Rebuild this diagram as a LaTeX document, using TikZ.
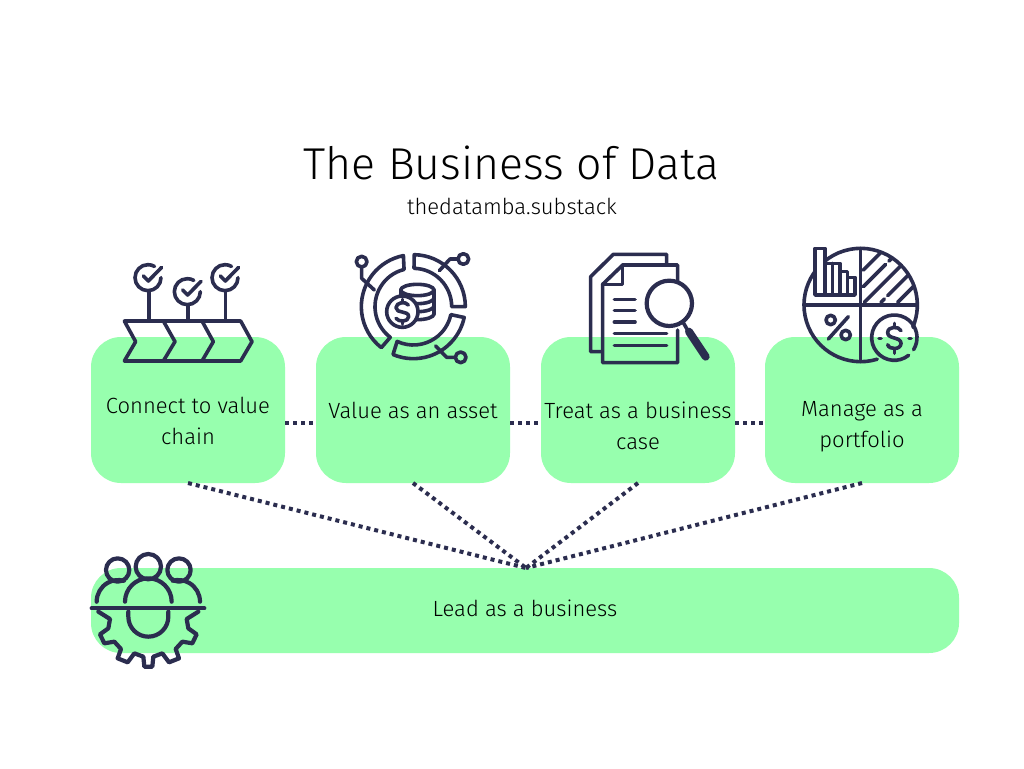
\documentclass[tikz,border=0pt]{standalone}
\usepackage{fontspec}
\setmainfont{Fira Sans Light}
\definecolor{navy}{HTML}{2B2D4F}
\definecolor{mint}{HTML}{97FFAE}
\tikzset{
  panel/.style={fill=mint,inner sep=0pt,outer sep=0pt,rounded corners=30pt,minimum width=194pt,minimum height=146pt},
  leadpanel/.style={panel,minimum width=868pt,minimum height=85pt},
  dotline/.style={draw=navy,line width=4pt,dash pattern=on 4pt off 4pt},
  ink/.style={draw=navy,line width=3.6pt,line join=round,line cap=round},
  thickink/.style={ink,line width=4.2pt},
  caption/.style={text=black,align=center,font=\fontsize{22}{31}\selectfont,inner sep=0pt},
  iconz/.style={shift={#1},scale=0.33333}
}
\begin{document}
\begin{tikzpicture}[yscale=-1,x=1pt,y=1pt]
\useasboundingbox[fill=white] (0,0) rectangle (1024,768);
\node[panel] (b1) at (188,410) {};
\node[panel] (b2) at (413,410) {};
\node[panel] (b3) at (638,410) {};
\node[panel] (b4) at (862,410) {};
\node[leadpanel] (lead) at (525,610.5) {};
\draw[dotline] ([yshift=13pt]b1.east) -- ([yshift=13pt]b2.west);
\draw[dotline] ([yshift=13pt]b2.east) -- ([yshift=13pt]b3.west);
\draw[dotline] ([yshift=13pt]b3.east) -- ([yshift=13pt]b4.west);
\draw[dotline] (b1.south) -- ([xshift=1pt]lead.north);
\draw[dotline] (b2.south) -- ([xshift=1pt]lead.north);
\draw[dotline] (b3.south) -- ([xshift=1pt]lead.north);
\draw[dotline] (b4.south) -- ([xshift=1pt]lead.north);
\node[text=black,inner sep=0pt,font=\fontsize{44.6}{50}\selectfont] (title) at (511.5,163) {The Business of Data};
\node[text=black,inner sep=0pt,font=\fontsize{22}{26}\selectfont] (sub) at (512,206.5) {thedatamba.substack};
\node[caption] (c1) at (188,421) {Connect to value\\chain};
\node[caption] (c2) at (413,410.5) {Value as an asset};
\node[caption] (c3) at (638,425.5) {Treat as a business\\case};
\node[caption] (c4) at (862,426.5) {Manage as a\\portfolio};
\node[caption] (c5) at (525,608) {Lead as a business};
% icon 1
\begin{scope}[iconz={(90,240)}]
\draw[ink] (103,243) -- (452,243) -- (486,305) -- (452,363) -- (103,363) -- (137,305) -- cycle;
\draw[ink] (220,243) -- (255,305) -- (220,363);
\draw[ink] (336,243) -- (370,305) -- (336,363);
\foreach \cx/\cy in {174/113,292/155,405/113}{
  \begin{scope}[shift={(\cx,\cy)}]
  \draw[ink] (39,0) arc[start angle=0,end angle=300,radius=39];
  \draw[ink] (-14,-5) -- (1,10) -- (41,-31);
  \end{scope}
}
\draw[ink] (177,152) -- (177,243);
\draw[ink] (294,194) -- (294,243);
\draw[ink] (407,152) -- (407,243);
\end{scope}
% icon 2
\begin{scope}[iconz={(340,240)}]
\def\Ro{156}\def\Ri{115}
\begin{scope}[shift={(220,200)}]
\draw[ink] (-89:\Ro) arc[start angle=-89,end angle=0,radius=\Ro] -- (0:\Ri) arc[start angle=0,end angle=-89,radius=\Ri] -- cycle;
\draw[ink] (12:\Ro) arc[start angle=12,end angle=113,radius=\Ro] -- (115:\Ri) arc[start angle=115,end angle=12,radius=\Ri] -- cycle;
\draw[ink] (128:\Ro) arc[start angle=128,end angle=259,radius=\Ro] -- (256:\Ri) arc[start angle=256,end angle=127,radius=\Ri] -- cycle;
\end{scope}
\draw[ink] (65,65) circle (16);
\draw[ink] (65,82) -- (65,115) -- (103,150);
\draw[ink] (370,57) circle (16);
\draw[ink] (353,57) -- (330,57) -- (298,92);
\draw[ink] (362,352) circle (16);
\draw[ink] (345,352) -- (320,352) -- (287,318);
\draw[ink] (232,150) ellipse (50 and 17);
\draw[ink] (182,150) -- (182,190);
\draw[ink] (282,150) -- (282,222);
\foreach \yy in {174,198,222}{
  \draw[ink] (282,\yy) arc[start angle=0,end angle=130,x radius=50,y radius=17];
}
\draw[ink,fill=white] (187,215) circle (47);
\draw[ink] (205,195) .. controls (197,183) and (168,187) .. (168,203) .. controls (168,222) and (206,210) .. (206,230) .. controls (206,246) and (176,247) .. (168,235);
\draw[ink] (187,178) -- (187,186);
\draw[ink] (187,244) -- (187,252);
\end{scope}
% icon 3
\begin{scope}[iconz={(575,240)}]
\draw[ink] (275,72) -- (275,43) -- (115,43) -- (47,110) -- (47,335) -- (80,335);
\draw[ink] (308,125) -- (308,75) -- (143,75) -- (83,133) -- (83,368) -- (308,368) -- (308,270);
\draw[ink] (143,75) -- (143,133) -- (83,133);
\draw[ink] (118,178) -- (180,178);
\draw[ink] (118,212) -- (180,212);
\draw[ink] (118,246) -- (180,246);
\draw[ink] (118,281) -- (275,281);
\draw[ink] (118,316) -- (275,316);
\draw[thickink] (283,190) circle (68);
\draw[ink] (325,248) -- (342,278);
\draw[ink,line width=8pt] (342,275) -- (392,350);
\end{scope}
% icon 4
\begin{scope}[iconz={(795,240)}]
\begin{scope}[shift={(197,195)}]
\draw[ink] (73:170) arc[start angle=73,end angle=383,radius=170];
\end{scope}
\draw[ink] (197,25) -- (197,365);
\draw[ink] (27,195) -- (365,195);
\draw[ink] (205,90) -- (258,37);
\draw[ink] (205,140) -- (272,73);
\draw[ink] (282,63) -- (291,54);
\draw[ink] (208,187) -- (319,76);
\draw[ink] (258,187) -- (268,177);
\draw[ink] (278,167) -- (341,104);
\draw[ink] (308,187) -- (357,138);
\draw[ink,fill=white] (60,165) -- (60,25) -- (90,25) -- (90,70) -- (135,70) -- (135,95) -- (158,95) -- (158,112) -- (180,112) -- (180,165) -- cycle;
\draw[ink] (90,70) -- (90,165);
\draw[ink] (113,70) -- (113,165);
\draw[ink] (135,95) -- (135,165);
\draw[ink] (158,112) -- (158,165);
\draw[ink] (107,240) circle (14);
\draw[ink] (152,285) circle (14);
\draw[ink] (100,297) -- (160,230);
\begin{scope}[shift={(298,293)}]
\draw[ink] (51:68) arc[start angle=51,end angle=392,radius=68];
\end{scope}
\draw[ink] (252,295) -- (258,295);
\draw[ink] (342,295) -- (348,295);
\draw[ink] (318,272) .. controls (312,258) and (278,258) .. (278,278) .. controls (278,298) and (318,290) .. (318,310) .. controls (318,330) and (282,330) .. (278,314);
\draw[ink] (298,250) -- (298,260);
\draw[ink] (298,328) -- (298,340);
\end{scope}
% icon 5
\begin{scope}[iconz={(85,545)}]
\draw[thickink] (40,200) -- (75,222) -- (70,250) -- (45,268) -- (58,295) -- (88,290) -- (108,312) -- (98,340) -- (128,352) -- (148,325) -- (175,335) -- (178,365) -- (202,365) -- (205,335) -- (232,325) -- (252,352) -- (282,340) -- (272,312) -- (292,290) -- (322,295) -- (335,268) -- (310,250) -- (305,222) -- (340,200);
\draw[thickink] (98,75) circle (35);
\draw[thickink] (190,65) circle (38);
\draw[thickink] (282,75) circle (35);
\draw[thickink] (120,170) arc[start angle=180,end angle=360,radius=70];
\draw[thickink] (35,170) arc[start angle=180,end angle=285,radius=65];
\draw[thickink] (345,170) arc[start angle=0,end angle=-105,radius=65];
\draw[thickink] (130,200) -- (130,215) arc[start angle=180,end angle=0,radius=60] -- (250,200);
\draw[thickink] (20,190) -- (358,190);
\end{scope}
\end{tikzpicture}
\end{document}
